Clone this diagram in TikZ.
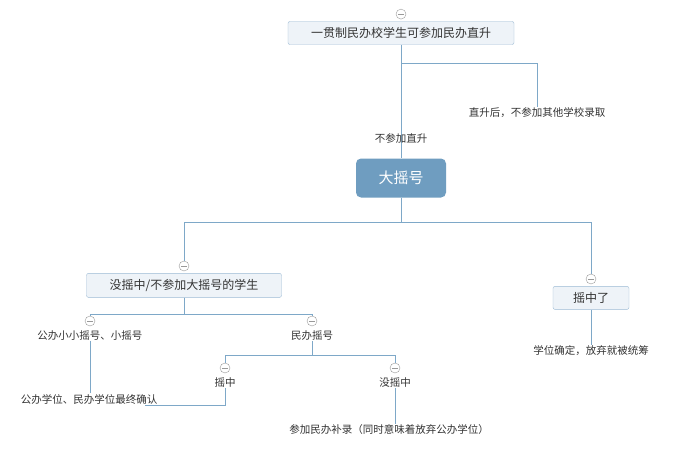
\documentclass[tikz,border=0pt]{standalone}
\usepackage{fontspec}
\setmainfont{Noto Sans CJK SC}
\usepackage{xcolor}
\usetikzlibrary{positioning}
\definecolor{linkblue}{HTML}{7EA8C8}
\definecolor{boxfill}{HTML}{EEF3F8}
\definecolor{boxline}{HTML}{9CBBD5}
\definecolor{rootblue}{HTML}{6F9DC0}
\definecolor{txtgray}{HTML}{333333}

\begin{document}
\begin{tikzpicture}[x=1pt, y=-1pt, >=latex]
    \tikzstyle{topic}=[rectangle, draw=boxline, fill=boxfill, rounded corners=2pt, minimum height=23pt, text=txtgray, font=\fontsize{12}{14}\selectfont]
    \tikzstyle{central}=[rectangle, fill=rootblue, rounded corners=5pt, minimum width=90pt, minimum height=39pt, text=white, font=\fontsize{15}{17}\selectfont]
    \tikzstyle{leaf}=[inner sep=1pt, text=txtgray, font=\fontsize{10.5}{12}\selectfont]
    \tikzstyle{fold}=[circle, draw=gray!80, fill=white, minimum size=10pt, inner sep=0pt, path picture={\draw[gray!80] ([xshift=-3pt]path picture bounding box.center) -- ([xshift=3pt]path picture bounding box.center);}]
    \tikzstyle{link}=[draw=linkblue, line width=0.8pt]

    \fill[white] (0,0) rectangle (678,452);

    \node[topic, minimum width=226pt] (zs) at (401,33) {一贯制民办校学生可参加民办直升};
    \node[fold, above=2pt of zs] (f0) {};
    \node[leaf] (zsh) at (537,113) {直升后，不参加其他学校录取};
    \node[central] (dyh) at (401,178) {大摇号};

    \node[fold] (f1) at (184,266) {};
    \node[topic, minimum width=195pt, minimum height=24pt, below=2pt of f1] (mjh) {没摇中/不参加大摇号的学生};
    \node[fold] (f2) at (591,279) {};
    \node[topic, minimum width=76pt, below=2pt of f2] (yzl) {摇中了};
    \node[leaf] (xwqd) at (591,351) {学位确定，放弃就被统筹};

    \node[fold] (f3) at (90,321) {};
    \node[leaf, below=3pt of f3] (gbxx) {公办小小摇号、小摇号};
    \node[fold] (f4) at (312,321) {};
    \node[leaf, below=3pt of f4] (mbyh) {民办摇号};
    \node[leaf] (qrxw) at (89,399) {公办学位、民办学位最终确认};

    \node[fold] (f5) at (225,368) {};
    \node[leaf, below=3pt of f5] (yz) {摇中};
    \node[fold] (f6) at (395,368) {};
    \node[leaf, below=3pt of f6] (myz) {没摇中};
    \node[leaf] (bl) at (389,430) {参加民办补录（同时意味着放弃公办学位）};

    \coordinate (b1) at (401,63);
    \draw[link] (zs) -- node[leaf, pos=0.83] {不参加直升} (dyh);
    \draw[link] (b1) -| (zsh.north);
    \draw[link] (dyh.south) -- ++(0,25) -| (f1.north);
    \draw[link] (dyh.south) -- ++(0,25) -| (f2.north);
    \draw[link] (yzl) -- (xwqd);
    \draw[link] (mjh.south) -- ++(0,17) -| (f3.north);
    \draw[link] (mjh.south) -- ++(0,17) -| (f4.north);
    \draw[link] (gbxx.south -| f3) -- (qrxw.north -| f3);
    \draw[link] (mbyh.south) -- ++(0,14) -| (f5.north);
    \draw[link] (mbyh.south) -- ++(0,14) -| (f6.north);
    \draw[link] (yz.south) |- ([xshift=-13pt]qrxw.south east);
    \draw[link] (myz.south) -- (myz.south |- bl.north);
\end{tikzpicture}
\end{document}
